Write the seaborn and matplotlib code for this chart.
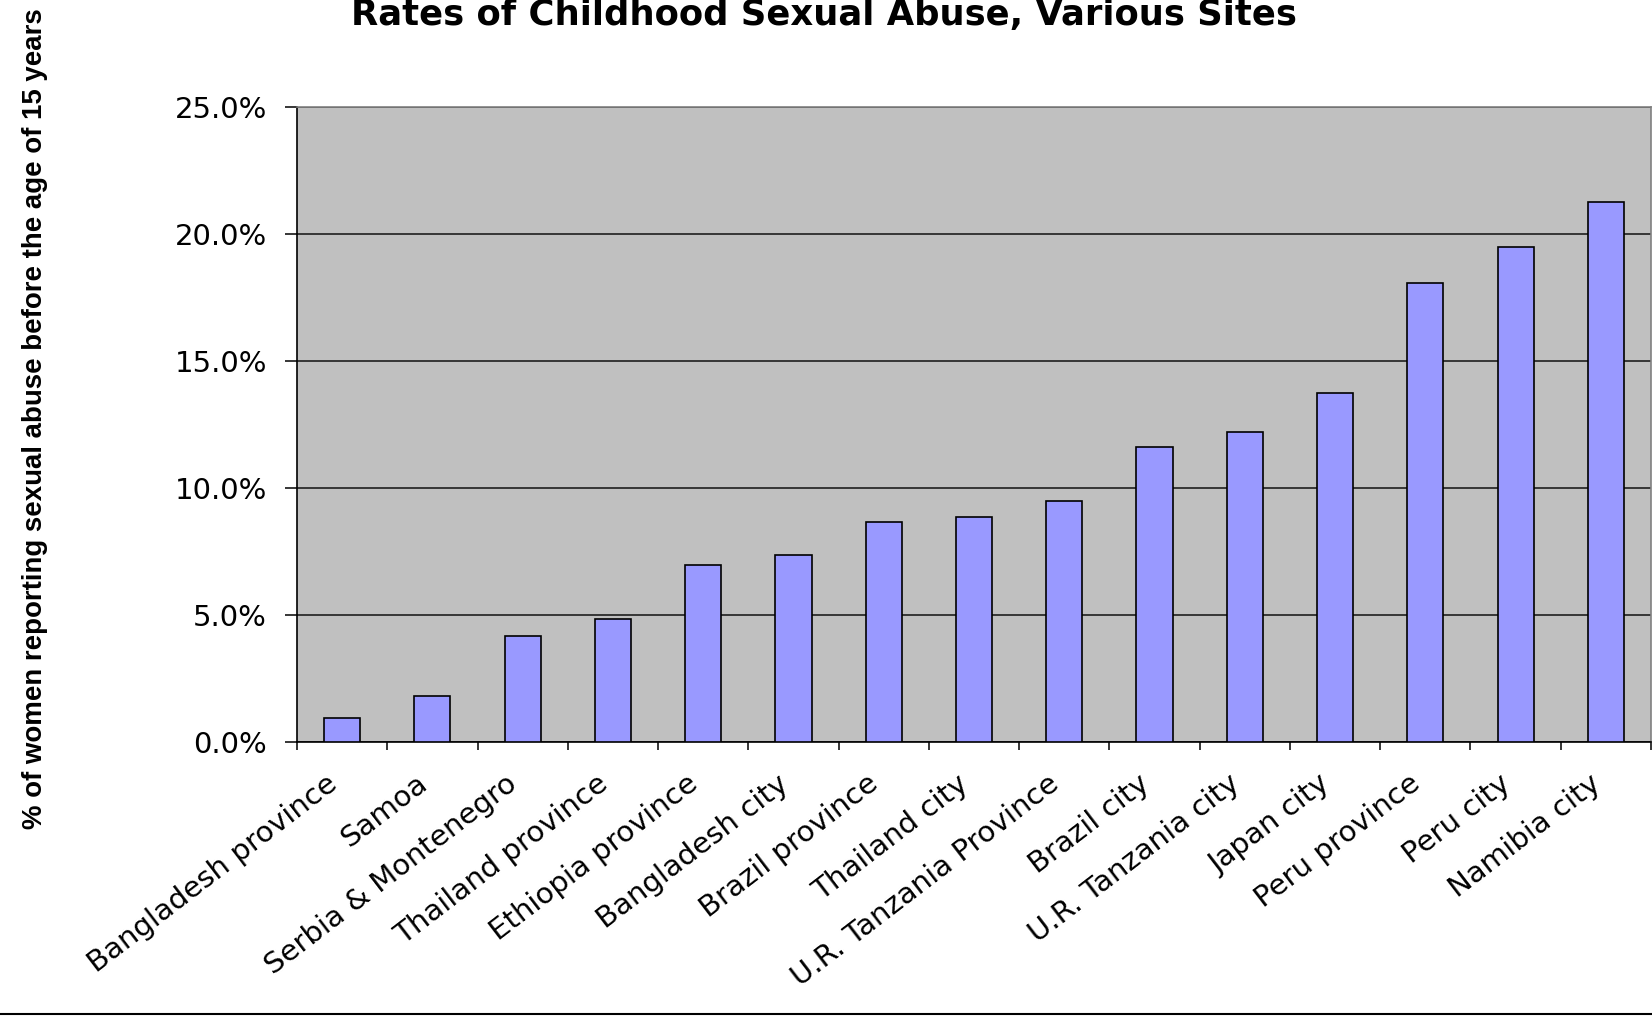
import matplotlib
matplotlib.use("Agg")
import matplotlib.pyplot as plt
import seaborn as sns
import numpy as np
import pandas as pd
from matplotlib.ticker import PercentFormatter, FixedLocator
from matplotlib.lines import Line2D

sites = [
    "Bangladesh province", "Samoa", "Serbia & Montenegro", "Thailand province",
    "Ethiopia province", "Bangladesh city", "Brazil province", "Thailand city",
    "U.R. Tanzania Province", "Brazil city", "U.R. Tanzania city", "Japan city",
    "Peru province", "Peru city", "Namibia city",
]
rates = [0.0095, 0.018, 0.0415, 0.0485, 0.0695, 0.0735, 0.0865, 0.0885,
         0.095, 0.116, 0.122, 0.1375, 0.1805, 0.195, 0.2125]
y_ticks = [0.0, 0.05, 0.10, 0.15, 0.20, 0.25]

title_text = "Rates of Childhood Sexual Abuse, Various Sites"
ylabel_text = "% of women reporting sexual abuse before the age of 15 years"

df = pd.DataFrame({"site": sites, "rate": rates})

plt.rcParams["font.family"] = ["DejaVu Sans"]

fig = plt.figure(figsize=(16.52, 10.16), dpi=100)
ax = fig.add_axes([297 / 1652, 1 - 741.7 / 1016, 1354 / 1652, (741.7 - 107) / 1016])

sns.barplot(data=df, x="site", y="rate", color="#9999FF", saturation=1,
            width=0.4, edgecolor="black", linewidth=1.2, ax=ax, zorder=3)

ax.set_facecolor("#C0C0C0")
ax.set_xlim(-0.5, len(sites) - 0.5)
ax.set_ylim(0, 0.25)
ax.set_yticks(y_ticks)
ax.yaxis.set_major_formatter(PercentFormatter(xmax=1, decimals=1))
ax.yaxis.grid(True, color="#111111", linewidth=1.1, zorder=1)
ax.set_axisbelow(True)

ax.set_xlabel("")
ax.set_ylabel("")

# category labels at bar centres, tick marks at category boundaries
ax.set_xticks(range(len(sites)))
ax.set_xticklabels(sites, rotation=37.5, ha="right", va="bottom",
                   rotation_mode="anchor", fontsize=21)
ax.tick_params(axis="x", which="major", length=0, pad=36)
ax.xaxis.set_minor_locator(FixedLocator(np.arange(-0.5, len(sites), 1.0)))
ax.tick_params(axis="x", which="minor", length=6, width=1.1, color="black",
               direction="out")
ax.tick_params(axis="y", length=8.6, width=1.1, color="black", direction="out",
               labelsize=21, pad=13)

for side in ("left", "bottom"):
    ax.spines[side].set_color("black")
    ax.spines[side].set_linewidth(1.2)
for side in ("top", "right"):
    ax.spines[side].set_color("#808080")
    ax.spines[side].set_linewidth(1.2)

fig.text(0.499, 1 - 25 / 1016, title_text, ha="center", va="baseline",
         fontsize=25.5, fontweight="bold")
fig.text(35 / 1652, 1 - 419 / 1016, ylabel_text, rotation=90, ha="center",
         va="center", fontsize=19.9, fontweight="bold",
         family=["Liberation Sans Narrow", "Liberation Sans"])

fig.add_artist(Line2D([0, 1], [0.0015, 0.0015], transform=fig.transFigure,
                      color="black", linewidth=1.5))

fig.savefig("out.png", dpi=100, facecolor="white")
